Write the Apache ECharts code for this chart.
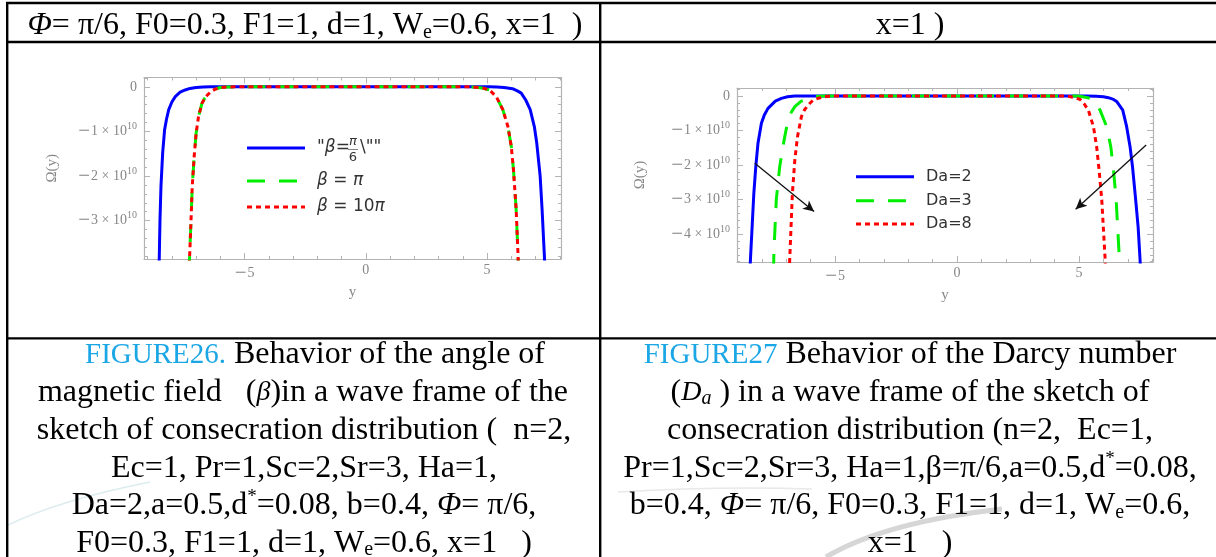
<!DOCTYPE html>
<html>
<head>
<meta charset="utf-8">
<script src="https://cdn.jsdelivr.net/npm/echarts@6/dist/echarts.min.js"></script>
<style>
  html, body { margin: 0; padding: 0; background: #fff; }
  #chart { width: 1216px; height: 557px; }
</style>
</head>
<body>
<div id="chart"></div>
<script>
// Ω(y) values are stored in units of 1e10; y is the transverse coordinate.

// ---- Figure 26: angle of magnetic field β ----
const fig26BetaPi6 = [
  [-8.55,-4.2],[-8.52,-3.83],[-8.49,-2.97],[-8.45,-2.23],[-8.38,-1.48],[-8.30,-0.96],
  [-8.22,-0.72],[-8.13,-0.51],[-8.00,-0.34],[-7.86,-0.22],[-7.66,-0.12],[-7.45,-0.07],
  [-7.25,-0.035],[-7.0,-0.012],[-6.7,-0.003],[-6.4,0],[5.1,0],[5.4,-0.004],[5.7,-0.012],
  [6.05,-0.04],[6.25,-0.09],[6.41,-0.14],[6.6,-0.3],[6.78,-0.51],[6.95,-0.89],[7.05,-1.26],
  [7.19,-2.0],[7.27,-2.75],[7.37,-3.85],[7.39,-4.2]
];
const fig26BetaPi = [
  [-7.3,-4.2],[-7.27,-3.83],[-7.21,-2.98],[-7.16,-2.23],[-7.08,-1.56],[-7.0,-1.04],
  [-6.9,-0.66],[-6.76,-0.37],[-6.64,-0.25],[-6.53,-0.18],[-6.37,-0.1],[-6.21,-0.05],
  [-6.0,-0.015],[-5.7,-0.003],[-5.4,0],[4.2,0],[4.55,-0.01],[4.85,-0.03],[5.1,-0.07],
  [5.38,-0.22],[5.65,-0.51],[5.86,-0.89],[6.0,-1.34],[6.09,-1.86],[6.2,-2.75],[6.28,-3.8],[6.3,-4.2]
];
const fig26Beta10Pi = [
  [-7.3,-4.2],[-7.27,-3.83],[-7.21,-2.98],[-7.16,-2.23],[-7.08,-1.56],[-7.0,-1.04],
  [-6.9,-0.66],[-6.76,-0.37],[-6.64,-0.25],[-6.53,-0.18],[-6.37,-0.1],[-6.21,-0.05],
  [-6.0,-0.015],[-5.7,-0.003],[-5.4,0],[4.2,0],[4.55,-0.01],[4.85,-0.03],[5.1,-0.07],
  [5.38,-0.22],[5.65,-0.51],[5.86,-0.89],[6.0,-1.34],[6.09,-1.86],[6.2,-2.75],[6.28,-3.8],[6.3,-4.2]
];

// ---- Figure 27: Darcy number Da ----
const fig27Da2 = [
  [-8.49,-5.1],[-8.47,-4.75],[-8.40,-3.79],[-8.33,-2.82],[-8.25,-2.05],[-8.16,-1.37],
  [-8.02,-0.79],[-7.9,-0.55],[-7.75,-0.36],[-7.45,-0.15],[-7.2,-0.07],[-6.95,-0.025],
  [-6.65,-0.005],[-6.3,0],[5.3,0],[5.7,-0.008],[6.0,-0.025],[6.2,-0.05],[6.41,-0.1],
  [6.54,-0.16],[6.79,-0.41],[6.95,-0.89],[7.09,-1.47],[7.19,-2.05],[7.32,-3.01],
  [7.42,-3.79],[7.5,-4.75],[7.52,-5.1]
];
const fig27Da3 = [
  [-7.52,-5.1],[-7.51,-4.56],[-7.41,-3.01],[-7.27,-2.05],[-7.09,-1.28],[-6.93,-0.7],
  [-6.8,-0.48],[-6.65,-0.31],[-6.4,-0.16],[-6.1,-0.07],[-5.9,-0.03],[-5.7,-0.01],[-5.4,0],
  [4.8,0],[5.04,-0.01],[5.25,-0.035],[5.45,-0.07],[5.65,-0.18],[5.86,-0.41],[6.13,-0.89],
  [6.3,-1.47],[6.41,-2.14],[6.52,-3.01],[6.64,-4.56],[6.66,-5.1]
];
const fig27Da8 = [
  [-6.88,-5.1],[-6.86,-4.75],[-6.75,-2.82],[-6.65,-1.86],[-6.54,-1.18],[-6.38,-0.6],
  [-6.25,-0.4],[-6.1,-0.26],[-5.9,-0.12],[-5.7,-0.07],[-5.5,-0.03],[-5.29,-0.008],[-5.0,0],
  [4.3,0],[4.5,-0.005],[4.78,-0.04],[5.04,-0.1],[5.2,-0.22],[5.38,-0.41],[5.59,-0.89],
  [5.72,-1.47],[5.82,-2.14],[5.93,-3.01],[6.07,-4.75],[6.08,-5.1]
];
// arrows showing the trend with increasing Da: [from, to]
const fig27Arrows = [
  [[-8.29,-1.95],[-5.86,-3.35]],
  [[7.75,-1.42],[4.86,-3.28]]
];

// ---- axis ranges and ticks ----
const fig26XRange = [-9.15, 8.05];
const fig26YRange = [-3.86, 0.21];
const fig27XRange = [-9.02, 8.03];
const fig27YRange = [-4.81, 0.23];
const xMajorTicks = [-5, 0, 5];
const xMinorTicks = [-9,-8,-7,-6,-4,-3,-2,-1,1,2,3,4,6,7,8];
const fig26YMajor = [0,-1,-2,-3];
const fig26YMinor = [0.2,-0.2,-0.4,-0.6,-0.8,-1.2,-1.4,-1.6,-1.8,-2.2,-2.4,-2.6,-2.8,-3.2,-3.4,-3.6,-3.8];
const fig27YMajor = [0,-1,-2,-3,-4];
const fig27YMinor = [0.2,-0.2,-0.4,-0.6,-0.8,-1.2,-1.4,-1.6,-1.8,-2.2,-2.4,-2.6,-2.8,-3.2,-3.4,-3.6,-3.8,-4.2,-4.4,-4.6,-4.8];

// ---- legend and caption text ----
const fig26Legend = ['β=π/6', 'β=π', 'β=10π'];
const fig27Legend = ['Da=2', 'Da=3', 'Da=8'];
const headerLeft = '{it|Φ}= π/6, F0=0.3, F1=1, d=1, W{sub|e}=0.6, x=1  )';
const headerRight = 'x=1 )';
const captionLeft = [
  '{fig|FIGURE26.} Behavior of the angle of',
  'magnetic field   ({ib|β})in a wave frame of the',
  'sketch of consecration distribution (  n=2,',
  'Ec=1, Pr=1,Sc=2,Sr=3, Ha=1,',
  'Da=2,a=0.5,d{sup|*}=0.08, b=0.4, {it|Φ}= π/6,',
  'F0=0.3, F1=1, d=1, W{sub|e}=0.6, x=1   )'
];
const captionRight = [
  '{fig|FIGURE27} Behavior of the Darcy number',
  '({ib|D}{isub|a} ) in a wave frame of the sketch of',
  'consecration distribution (n=2,  Ec=1,',
  'Pr=1,Sc=2,Sr=3, Ha=1,β=π/6,a=0.5,d{sup|*}=0.08,',
  'b=0.4, {it|Φ}= π/6, F0=0.3, F1=1, d=1, W{sub|e}=0.6,',
  'x=1   )'
];

// ---- styling ----
const FRAME = '#b3b3b3';
const TICKTXT = '#878787';
const SERIF = '"Liberation Serif", "Times New Roman", serif';
const SANS = '"DejaVu Sans", sans-serif';
const BLUE = '#0000ff', GREEN = '#00ee00', RED = '#ff0000';

const tickRich = {
  b: { fontFamily: SERIF, fontSize: 14, color: TICKTXT },
  m: { fontFamily: SERIF, fontSize: 21, color: TICKTXT, padding: [0, 1, 0, 0] },
  s: { fontFamily: SERIF, fontSize: 10, color: TICKTXT, padding: [0, 0, 10, 0] }
};
function xTickText(v) {
  return v < 0 ? '{m|−}{b|' + Math.abs(v) + '}' : '{b|' + v + '}';
}
function yTickText(v) {
  if (v === 0) return '{b|0}';
  return '{m|−}{b|' + Math.abs(v) + ' × 10}{s|10}';
}

const NO_LINE = { show: false, onZero: false };

function xAxesFor(grid, range, nameGap) {
  const base = { gridIndex: grid, type: 'value', min: range[0], max: range[1],
    splitLine: { show: false }, axisPointer: { show: false } };
  const line = { show: true, onZero: false, lineStyle: { color: FRAME, width: 1.2 } };
  return [
    Object.assign({}, base, {
      position: 'bottom', axisLine: line,
      axisTick: { show: true, inside: true, length: 6, customValues: xMajorTicks, lineStyle: { color: FRAME } },
      axisLabel: { show: true, customValues: xMajorTicks, margin: 4, formatter: xTickText, rich: tickRich },
      name: 'y', nameLocation: 'middle', nameGap: nameGap,
      nameTextStyle: { fontFamily: SERIF, fontSize: 15, color: TICKTXT }
    }),
    Object.assign({}, base, {
      position: 'bottom', axisLine: NO_LINE,
      axisTick: { show: true, inside: true, length: 3, customValues: xMinorTicks, lineStyle: { color: FRAME } },
      axisLabel: { show: false }
    }),
    Object.assign({}, base, {
      position: 'top', axisLine: line,
      axisTick: { show: true, inside: true, length: 6, customValues: xMajorTicks, lineStyle: { color: FRAME } },
      axisLabel: { show: false }
    }),
    Object.assign({}, base, {
      position: 'top', axisLine: NO_LINE,
      axisTick: { show: true, inside: true, length: 3, customValues: xMinorTicks, lineStyle: { color: FRAME } },
      axisLabel: { show: false }
    })
  ];
}

function yAxesFor(grid, range, major, minor, nameGap) {
  const base = { gridIndex: grid, type: 'value', min: range[0], max: range[1],
    splitLine: { show: false }, axisPointer: { show: false } };
  const line = { show: true, onZero: false, lineStyle: { color: FRAME, width: 1.2 } };
  return [
    Object.assign({}, base, {
      position: 'left', axisLine: line,
      axisTick: { show: true, inside: true, length: 6, customValues: major, lineStyle: { color: FRAME } },
      axisLabel: { show: true, customValues: major, margin: 7, formatter: yTickText, rich: tickRich },
      name: 'Ω(y)', nameLocation: 'middle', nameGap: nameGap, nameRotate: 90,
      nameTextStyle: { fontFamily: SERIF, fontSize: 15, color: TICKTXT }
    }),
    Object.assign({}, base, {
      position: 'left', axisLine: NO_LINE,
      axisTick: { show: true, inside: true, length: 3, customValues: minor, lineStyle: { color: FRAME } },
      axisLabel: { show: false }
    }),
    Object.assign({}, base, {
      position: 'right', axisLine: line,
      axisTick: { show: true, inside: true, length: 6, customValues: major, lineStyle: { color: FRAME } },
      axisLabel: { show: false }
    }),
    Object.assign({}, base, {
      position: 'right', axisLine: NO_LINE,
      axisTick: { show: true, inside: true, length: 3, customValues: minor, lineStyle: { color: FRAME } },
      axisLabel: { show: false }
    })
  ];
}

function curve(name, data, axisIndex, color, dash, z) {
  return {
    type: 'line', name: name, data: data, xAxisIndex: axisIndex, yAxisIndex: axisIndex,
    showSymbol: false, symbol: 'none', clip: true, silent: true, z: z, animation: false,
    lineStyle: { color: color, width: 3, type: dash || 'solid', cap: 'butt' }
  };
}

const DASH_GREEN = [18, 14];
const DASH_RED = [5, 4];

const series = [
  curve(fig26Legend[0], fig26BetaPi6, 0, BLUE, null, 2),
  curve(fig26Legend[1], fig26BetaPi, 0, GREEN, DASH_GREEN, 3),
  curve(fig26Legend[2], fig26Beta10Pi, 0, RED, DASH_RED, 4),
  curve(fig27Legend[0], fig27Da2, 4, BLUE, null, 2),
  curve(fig27Legend[1], fig27Da3, 4, GREEN, DASH_GREEN, 3),
  curve(fig27Legend[2], fig27Da8, 4, RED, DASH_RED, 4)
];
series[5].markLine = {
  silent: true, animation: false, symbol: ['none', 'arrow'], symbolSize: [8, 11],
  lineStyle: { color: '#111', width: 1.3, type: 'solid' },
  label: { show: false }, emphasis: { disabled: true },
  data: fig27Arrows.map(a => [{ coord: a[0] }, { coord: a[1] }])
};

// ---- page graphics: table rules, legends, captions ----
function rule(x1, y1, x2, y2, w) {
  return { type: 'line', silent: true, z: 10,
    shape: { x1: x1, y1: y1, x2: x2, y2: y2 }, style: { stroke: '#000', lineWidth: w } };
}
function legendLine(x1, x2, y, color, dash) {
  return { type: 'line', silent: true, z: 20, shape: { x1: x1, y1: y, x2: x2, y2: y },
    style: { stroke: color, lineWidth: 3, lineDash: dash || null } };
}
function swoosh(x1, y1, cx, cy, x2, y2, color, w) {
  return { type: 'bezierCurve', silent: true, z: 1,
    shape: { x1: x1, y1: y1, cpx1: cx, cpy1: cy, x2: x2, y2: y2 },
    style: { stroke: color, lineWidth: w, fill: null } };
}
function txt(x, y, text, font, align, rich, fill) {
  return { type: 'text', silent: true, z: 20, x: x, y: y,
    style: { text: text, font: font, fill: fill || '#000', align: align, verticalAlign: 'middle',
      textAlign: align, textVerticalAlign: 'middle', rich: rich || {} } };
}

const CAP = '32px ' + SERIF;
const capRich = {
  fig: { font: '29px ' + SERIF, fill: '#1ba7e6' },
  it: { font: 'italic ' + CAP, fill: '#000' },
  ib: { font: 'italic 28px ' + SERIF, fill: '#000' },
  sub: { font: '20px ' + SERIF, fill: '#000', padding: [13, 0, 0, 0] },
  isub: { font: 'italic 20px ' + SERIF, fill: '#000', padding: [13, 0, 0, 0] },
  sup: { font: '19px ' + SERIF, fill: '#000', padding: [0, 0, 18, 0] }
};
const legRich = {
  i: { font: 'italic 17px ' + SANS, fill: '#333' },
  n: { font: '17px ' + SANS, fill: '#333' }
};

const elements = [
  // table rules
  rule(6, 3, 1216, 3, 2.5),
  rule(6, 42, 1216, 42, 2.5),
  rule(6, 338.3, 1216, 338.3, 2.2),
  rule(7.2, 2, 7.2, 557, 2.4),
  rule(600.2, 2, 600.2, 557, 2.4),
  // faint background marks
  swoosh(826, 557, 885, 522, 1002, 509, '#d6d6d6', 5),
  swoosh(618, 492, 720, 486, 812, 489, '#e8e8e8', 1.5),
  swoosh(8, 525, 60, 500, 150, 482, '#dcecef', 1.5),
  // header row
  txt(305, 26, headerLeft, '32px ' + SERIF, 'center', capRich),
  txt(910, 26, headerRight, '32px ' + SERIF, 'center', capRich),
  // figure 26 legend
  legendLine(247, 305, 148, BLUE),
  legendLine(247, 305, 181, GREEN, DASH_GREEN),
  legendLine(247, 305, 207, RED, DASH_RED),
  txt(317, 148, '{n|"}{i|β}{n|=}', '17px ' + SANS, 'left', legRich, '#333'),
  txt(353, 141.5, '{i|π}', '13px ' + SANS, 'center', { i: { font: 'italic 13px ' + SANS, fill: '#333' } }, '#333'),
  { type: 'line', silent: true, z: 20, shape: { x1: 348, y1: 149.5, x2: 358, y2: 149.5 },
    style: { stroke: '#666', lineWidth: 0.8 } },
  txt(353, 157.5, '6', '13px ' + SANS, 'center', {}, '#333'),
  txt(360, 148, '\\""', '17px ' + SANS, 'left', {}, '#333'),
  txt(317, 181, '{i|β}{n| = }{i|π}', '17px ' + SANS, 'left', legRich, '#333'),
  txt(317, 207, '{i|β}{n| = 10}{i|π}', '17px ' + SANS, 'left', legRich, '#333'),
  // figure 27 legend
  legendLine(856, 914, 176.7, BLUE),
  legendLine(856, 914, 200.7, GREEN, DASH_GREEN),
  legendLine(856, 914, 224, RED, DASH_RED),
  txt(926, 176.7, fig27Legend[0], '16px ' + SANS, 'left', {}, '#333'),
  txt(926, 200.7, fig27Legend[1], '16px ' + SANS, 'left', {}, '#333'),
  txt(926, 224, fig27Legend[2], '16px ' + SANS, 'left', {}, '#333')
];
const captionLeftX = [315, 303, 304, 304, 304, 304];
captionLeft.forEach((line, i) => elements.push(txt(captionLeftX[i], 355 + i * 37.7, line, CAP, 'center', capRich)));
captionRight.forEach((line, i) => elements.push(txt(910, 355 + i * 37.7, line, CAP, 'center', capRich)));

const chart = echarts.init(document.getElementById('chart'), null, { renderer: 'canvas' });
chart.setOption({
  animation: false,
  backgroundColor: '#ffffff',
  grid: [
    { left: 144, top: 77.5, width: 417, height: 181.5, containLabel: false },
    { left: 737, top: 88, width: 416, height: 174, containLabel: false }
  ],
  xAxis: xAxesFor(0, fig26XRange, 22).concat(xAxesFor(1, fig27XRange, 22)),
  yAxis: yAxesFor(0, fig26YRange, fig26YMajor, fig26YMinor, 84)
    .concat(yAxesFor(1, fig27YRange, fig27YMajor, fig27YMinor, 89)),
  series: series,
  graphic: { elements: elements }
});
</script>
</body>
</html>
